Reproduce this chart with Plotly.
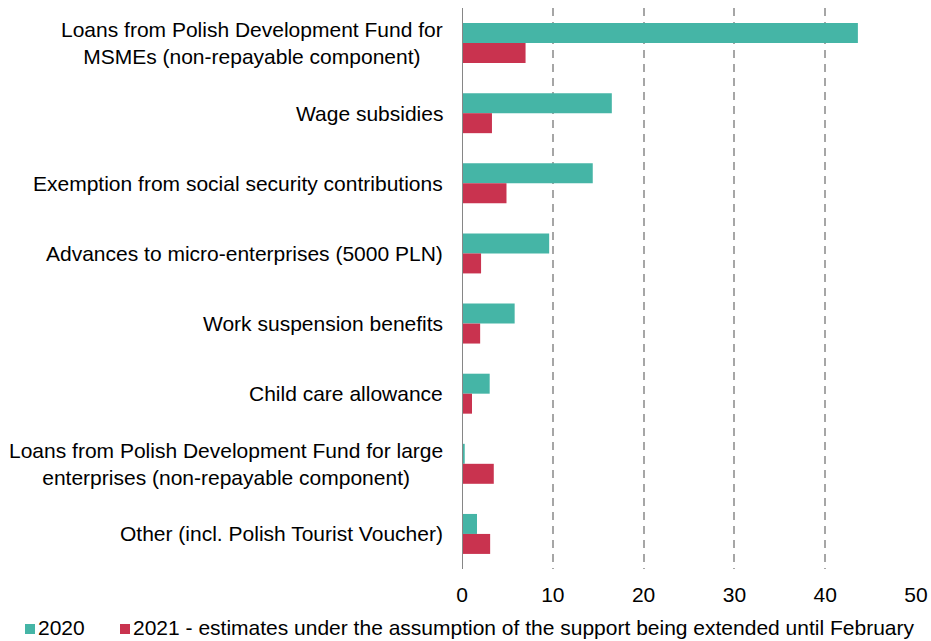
import plotly.graph_objects as go

# Support instruments (top to bottom), values in PLN bn
categories = [
    "Loans from Polish Development Fund for<br>MSMEs (non-repayable component)",
    "Wage subsidies",
    "Exemption from social security contributions",
    "Advances to micro-enterprises (5000 PLN)",
    "Work suspension benefits",
    "Child care allowance",
    "Loans from Polish Development Fund for large<br>enterprises (non-repayable component)",
    "Other (incl. Polish Tourist Voucher)",
]
values_2020 = [43.6, 16.5, 14.4, 9.6, 5.8, 3.05, 0.3, 1.65]
values_2021 = [7.0, 3.3, 4.9, 2.1, 2.0, 1.1, 3.5, 3.1]
x_ticks = [0, 10, 20, 30, 40, 50]

name_2020 = "2020"
name_2021 = "2021 - estimates under the assumption of the support being extended until February"

TEAL = "#45B5A6"
RED = "#C9334F"
FONT = "Liberation Sans, Arial, sans-serif"
FS = 21

W, H = 931, 641
ML, MR, MT, MB = 462, 15, 8, 72
PW, PH = W - ML - MR, H - MT - MB


def px_to_paper_x(px):
    return (px - ML) / PW


def px_to_paper_y(py):
    return (H - MB - py) / PH


fig = go.Figure()
fig.add_trace(go.Bar(
    y=categories, x=values_2020, name=name_2020, orientation="h",
    marker=dict(color=TEAL, line=dict(width=0)),
))
fig.add_trace(go.Bar(
    y=categories, x=values_2021, name=name_2021, orientation="h",
    marker=dict(color=RED, line=dict(width=0)),
))

# Category labels: centred multi-line text, right edge next to the axis
for cat in categories:
    fig.add_annotation(
        x=0, xref="paper", y=cat, yref="y",
        text=cat, showarrow=False, xanchor="right", align="center",
        xshift=-17, font=dict(family=FONT, size=FS, color="#000000"),
    )

# Legend row under the axis: small square swatch followed by the series name
legend_items = [(name_2020, TEAL, 25), (name_2021, RED, 120)]
swatch_y = 629
text_y = 627
for label, color, sx in legend_items:
    fig.add_shape(
        type="rect", xref="paper", yref="paper",
        x0=px_to_paper_x(sx), x1=px_to_paper_x(sx + 10),
        y0=px_to_paper_y(swatch_y + 5), y1=px_to_paper_y(swatch_y - 5),
        fillcolor=color, line=dict(width=0),
    )
    fig.add_annotation(
        x=px_to_paper_x(sx + 12), xref="paper",
        y=px_to_paper_y(text_y), yref="paper",
        text=label, showarrow=False, xanchor="left", yanchor="middle",
        borderpad=0,
        font=dict(family=FONT, size=FS, color="#000000"),
    )

fig.update_layout(
    width=W, height=H,
    margin=dict(l=ML, r=MR, t=MT, b=MB, autoexpand=False),
    paper_bgcolor="white", plot_bgcolor="white",
    barmode="group", bargap=0.43, bargroupgap=0,
    font=dict(family=FONT, size=FS, color="#000000"),
    showlegend=False,
    xaxis=dict(
        range=[0, 50], tickvals=x_ticks, ticktext=[str(t) for t in x_ticks],
        showgrid=True, gridcolor="#A6A6A6", gridwidth=2, griddash="8px,6px",
        zeroline=False, showline=False, ticks="", ticklabelstandoff=11,
        tickfont=dict(family=FONT, size=FS, color="#000000"),
    ),
    yaxis=dict(
        autorange="reversed", showticklabels=False, showgrid=False,
        zeroline=False, showline=False, ticks="",
    ),
)

# Solid vertical axis line at zero
fig.add_shape(
    type="line", xref="x", yref="paper", x0=0, x1=0, y0=0, y1=1,
    line=dict(color="#868686", width=2),
)

fig.write_html("out.html")
